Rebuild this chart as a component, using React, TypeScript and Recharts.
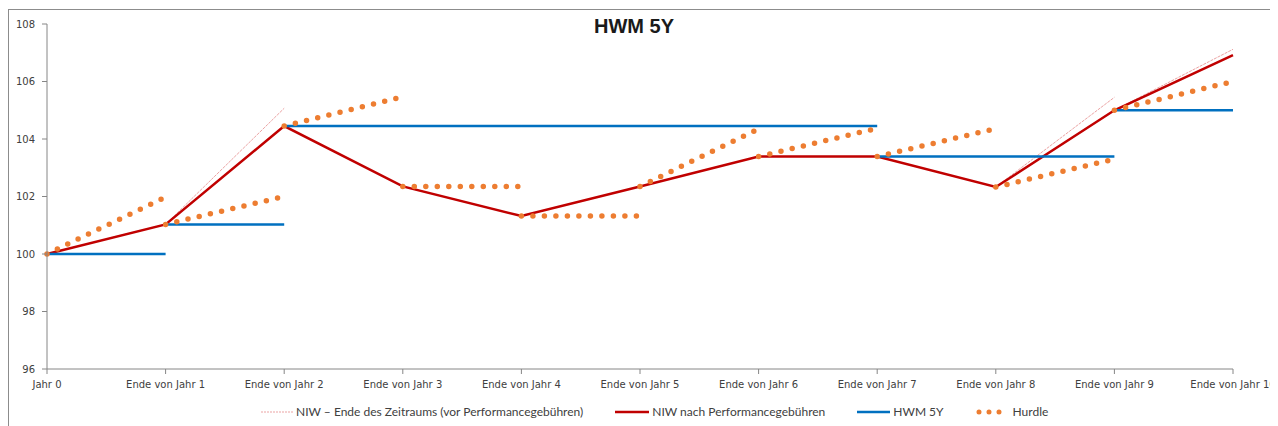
import React from 'react'
import { LineChart, Line, XAxis, YAxis } from 'recharts'

// Farben wie im Excel-Original
const RED = '#C00000'
const PINK = '#EBA3A3'
const BLUE = '#0070C0'
const ORANGE = '#ED7D31'
const AXIS = '#868686'

const yearLabels = [
  'Jahr 0',
  'Ende von Jahr 1',
  'Ende von Jahr 2',
  'Ende von Jahr 3',
  'Ende von Jahr 4',
  'Ende von Jahr 5',
  'Ende von Jahr 6',
  'Ende von Jahr 7',
  'Ende von Jahr 8',
  'Ende von Jahr 9',
  'Ende von Jahr 10',
]
const yearTicks = [0, 1, 2, 3, 4, 5, 6, 7, 8, 9, 10]
const valueTicks = [96, 98, 100, 102, 104, 106, 108]

// NIW nach Performancegebühren (Jahr 0 .. Jahr 10)
const niwNet = [100, 101.03, 104.45, 102.35, 101.32, 102.35, 103.39, 103.39, 102.33, 105.0, 106.92]
// NIW am Ende des Jahres vor Performancegebühren (Jahr 1 .. Jahr 10)
const niwGross = [101.03, 105.07, 102.35, 101.32, 102.35, 103.39, 103.39, 102.33, 105.45, 107.12]
// HWM 5Y je Jahresintervall
const hwmLevels = [100, 101.03, 104.45, 104.45, 104.45, 104.45, 104.45, 103.39, 103.39, 105.0]
// Hurdle am Ende jedes Jahres (Start = NIW zu Jahresbeginn)
const hurdleEnd = [101.98, 102.0, 105.47, 102.35, 101.32, 104.35, 104.37, 104.36, 103.3, 106.0]

type Pt = { x: number; y: number | null }

// Jahr i -> Jahr i+1 als einzelne Teilstücke, getrennt durch null
function segments(starts: number[], ends: number[]): Pt[] {
  const out: Pt[] = []
  for (let i = 0; i < ends.length; i++) {
    out.push({ x: i, y: starts[i] })
    out.push({ x: i + 1, y: ends[i] })
    out.push({ x: i + 1, y: null })
  }
  return out
}

const netData: Pt[] = niwNet.map((v, i) => ({ x: i, y: v }))
const grossData = segments(niwNet, niwGross)
const hwmData = segments(hwmLevels, hwmLevels)
const hurdleData = segments(niwNet, hurdleEnd)

const tickStyle = { fill: '#404040', fontSize: 10, fontFamily: 'DejaVu Sans' }

function LegendItem({ sample, label }: { sample: React.ReactNode; label: string }) {
  return (
    <div style={{ display: 'flex', alignItems: 'center', gap: 3 }}>
      {sample}
      <span>{label}</span>
    </div>
  )
}

export default function App() {
  return (
    <div style={{ position: 'relative', width: 1270, height: 418 }}>
      <div
        style={{
          position: 'absolute',
          left: 0,
          top: 1,
          width: 1270,
          height: 417,
          borderLeft: '1px solid #8c8c8c',
          borderTop: '1px solid #8c8c8c',
          boxSizing: 'border-box',
        }}
      />
      <div
        style={{
          position: 'absolute',
          left: 526,
          width: 200,
          top: 8,
          textAlign: 'center',
          fontFamily: 'Liberation Sans',
          fontWeight: 'bold',
          fontSize: 20,
          lineHeight: '20px',
          color: '#1a1a1a',
        }}
      >
        HWM 5Y
      </div>
      <LineChart width={1270} height={418} margin={{ top: 16, right: 45, left: 9, bottom: 27 }}>
        <XAxis
          type="number"
          dataKey="x"
          domain={[0, 10]}
          ticks={yearTicks}
          interval={0}
          tickFormatter={(v: number) => yearLabels[v]}
          tick={tickStyle}
          tickSize={5}
          tickMargin={7}
          height={30}
          axisLine={{ stroke: AXIS }}
          tickLine={{ stroke: AXIS }}
        />
        <YAxis
          type="number"
          domain={[96, 108]}
          ticks={valueTicks}
          interval={0}
          tick={tickStyle}
          tickSize={5}
          tickMargin={7}
          width={30}
          axisLine={{ stroke: AXIS }}
          tickLine={{ stroke: AXIS }}
        />
        <Line
          data={grossData}
          dataKey="y"
          type="linear"
          stroke={PINK}
          strokeWidth={1}
          strokeDasharray="3 1"
          dot={false}
          activeDot={false}
          connectNulls={false}
          isAnimationActive={false}
        />
        <Line
          data={netData}
          dataKey="y"
          type="linear"
          stroke={RED}
          strokeWidth={2.5}
          dot={false}
          activeDot={false}
          isAnimationActive={false}
        />
        <Line
          data={hwmData}
          dataKey="y"
          type="linear"
          stroke={BLUE}
          strokeWidth={2.5}
          dot={false}
          activeDot={false}
          connectNulls={false}
          isAnimationActive={false}
        />
        <Line
          data={hurdleData}
          dataKey="y"
          type="linear"
          stroke={ORANGE}
          strokeWidth={5.5}
          strokeDasharray="0 11.5"
          strokeLinecap="round"
          dot={false}
          activeDot={false}
          connectNulls={false}
          isAnimationActive={false}
        />
      </LineChart>
      <div
        style={{
          position: 'absolute',
          left: 253,
          top: 396,
          display: 'flex',
          alignItems: 'center',
          gap: 32,
          fontFamily: 'Lato',
          fontSize: 12,
          color: '#404040',
          whiteSpace: 'nowrap',
        }}
      >
        <LegendItem
          label="NIW – Ende des Zeitraums (vor Performancegebühren)"
          sample={
            <svg width={32} height={6}>
              <line x1={0} y1={3} x2={32} y2={3} stroke={PINK} strokeWidth={1} strokeDasharray="2 1" />
            </svg>
          }
        />
        <LegendItem
          label="NIW nach Performancegebühren"
          sample={
            <svg width={34} height={6}>
              <line x1={0} y1={3} x2={34} y2={3} stroke={RED} strokeWidth={2.5} />
            </svg>
          }
        />
        <LegendItem
          label="HWM 5Y"
          sample={
            <svg width={33} height={6}>
              <line x1={0} y1={3} x2={33} y2={3} stroke={BLUE} strokeWidth={2.5} />
            </svg>
          }
        />
        <LegendItem
          label="Hurdle"
          sample={
            <svg width={34} height={8}>
              <line
                x1={3}
                y1={4}
                x2={33}
                y2={4}
                stroke={ORANGE}
                strokeWidth={5}
                strokeDasharray="0 10"
                strokeLinecap="round"
              />
            </svg>
          }
        />
      </div>
    </div>
  )
}
